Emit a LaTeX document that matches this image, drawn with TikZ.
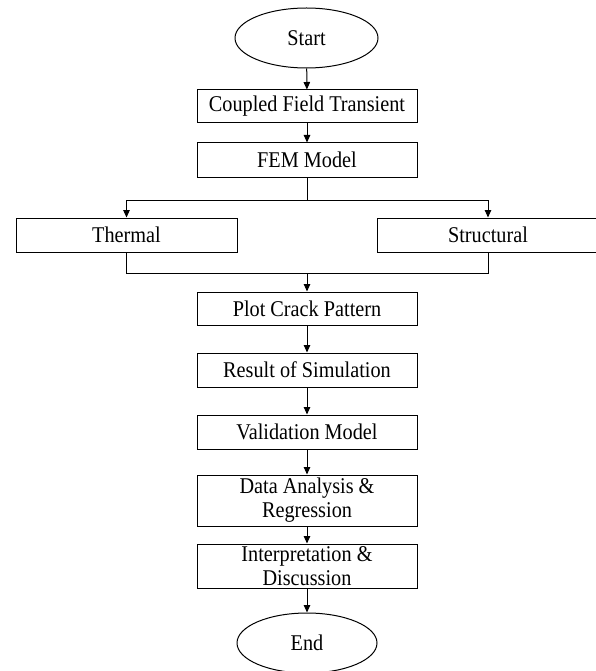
\documentclass[tikz,border=0pt]{standalone}
\usepackage{fontspec}
\setmainfont[FakeStretch=0.9]{Liberation Serif}
\usetikzlibrary{arrows.meta,shapes.geometric}
\begin{document}
\begin{tikzpicture}[x=1pt,y=-1pt,
  every node/.style={font=\fontsize{22.5}{24}\selectfont, text=black},
  box/.style={draw, line width=1pt, minimum width=220pt, inner sep=0pt, align=center},
  oval/.style={draw, ellipse, line width=1pt, inner sep=0pt},
  ln/.style={line width=1pt},
  arr/.style={line width=1pt, -{Triangle[length=7.5pt,width=6.5pt]}}]
\useasboundingbox (0,0) rectangle (595,671);
\node[oval, minimum width=143pt, minimum height=60pt] (start) at (306.5,38) {Start};
\node[box, minimum height=33pt] (coupled) at (307,106.5) {Coupled Field Transient};
\node[box, minimum height=34pt] (fem) at (307,160) {FEM Model};
\node[box, minimum width=221pt, minimum height=34pt] (thermal) at (126.5,235) {Thermal};
\node[box, minimum width=221pt, minimum height=34pt] (structural) at (488,235) {Structural};
\node[box, minimum height=33pt] (plot) at (307,308.5) {Plot Crack Pattern};
\node[box, minimum height=34pt] (result) at (307,370) {Result of Simulation};
\node[box, minimum height=34pt] (valid) at (307,432) {Validation Model};
\node[box, minimum height=51pt] (data) at (307,500.5) {Data Analysis \&\\Regression};
\node[box, minimum height=44pt] (interp) at (307,566) {Interpretation \&\\Discussion};
\node[oval, minimum width=140pt, minimum height=60pt] (end) at (307,643) {End};
\coordinate (split) at (307,200);
\coordinate (join) at (307,273);
\draw[arr] (start) -- (coupled);
\draw[arr] (coupled) -- (fem);
\draw[ln] (fem) -- (split);
\draw[arr] (split) -| (thermal);
\draw[arr] (split) -| (structural);
\draw[ln] (thermal) |- (join);
\draw[ln] (structural) |- (join);
\draw[arr] (join) -- (plot);
\draw[arr] (plot) -- (result);
\draw[arr] (result) -- (valid);
\draw[arr] (valid) -- (data);
\draw[arr] (data) -- (interp);
\draw[arr] (interp) -- (end);
\end{tikzpicture}
\end{document}
